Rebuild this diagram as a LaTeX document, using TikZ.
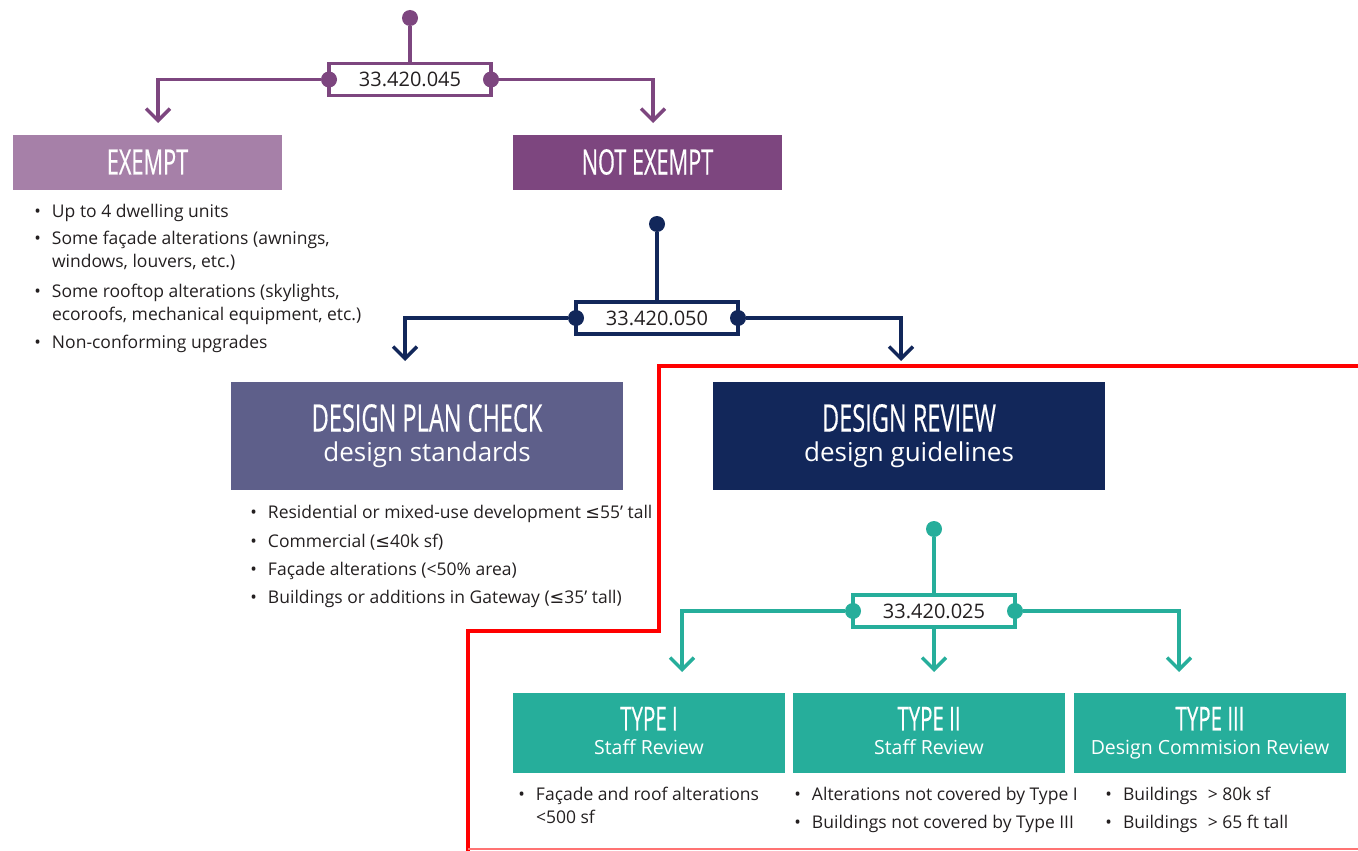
\documentclass[tikz,border=0pt]{standalone}
\usepackage{fontspec}
\setmainfont{Open Sans}
\newfontfamily\headfont[FakeStretch=0.62, FakeBold=0.4]{Open Sans}
\newfontfamily\symfont{DejaVu Sans}
\usetikzlibrary{positioning, arrows.meta}
\definecolor{exlight}{HTML}{A680A8}
\definecolor{exdark}{HTML}{7D467F}
\definecolor{plancol}{HTML}{5E5F8A}
\definecolor{navy}{HTML}{12275A}
\definecolor{seagreen}{HTML}{26AE9B}
\definecolor{ink}{HTML}{231F20}
\newcommand{\itm}{\llap{\textbullet\hspace{11pt}}}
\newcommand{\lesym}{{\symfont ≤}}

\begin{document}
\begin{tikzpicture}[x=1pt, y=-1pt,
            every node/.style = {inner sep=0pt, outer sep=0pt},
            head/.style = {minimum height=55pt, minimum width=269pt, text=white,
                font=\headfont\fontsize{35}{36}\selectfont},
            bigbox/.style = {minimum height=108pt, minimum width=392pt, text=white,
                align=center, font=\fontsize{26}{30}\selectfont},
            typebox/.style = {minimum height=80pt, minimum width=272pt, fill=seagreen,
                text=white, align=center, font=\fontsize{19.5}{24}\selectfont},
            code/.style = {draw, fill=white, line width=3.5pt, minimum width=162pt,
                minimum height=32pt, text=ink, font=\fontsize{20}{24}\selectfont},
            dot/.style = {circle, minimum size=16pt},
            link/.style = {line width=3.5pt, -{Straight Barb[length=12pt, width=24pt]}},
            item/.style = {anchor=base west, align=left, text=ink,
                font=\fontsize{17.5}{22.5}\selectfont}
        ]
        \useasboundingbox (0,0) rectangle (1358,851);

        \draw[red, line width=4.5pt] (468,851) -- (468,631) -- (659,631) -- (659,366) -- (1358,366);
        \draw[red!55, line width=2pt] (468,849) -- (1358,849);

        \node[head, fill=exlight] (exempt) at (147.5,162) {EXEMPT};
        \node[head, fill=exdark] (notex) at (647.5,162) {NOT EXEMPT};

        \node[bigbox, fill=plancol] (plan) at (427,436)
            {{\headfont\fontsize{38}{30}\selectfont DESIGN PLAN CHECK}\\design standards};
        \node[bigbox, fill=navy] (review) at (909,436)
            {{\headfont\fontsize{38}{30}\selectfont DESIGN REVIEW}\\design guidelines};

        \node[typebox] (type1) at (649,733)
            {{\headfont\fontsize{33}{24}\selectfont TYPE I}\\Staff Review\vphantom{g}};
        \node[typebox] (type2) at (929,733)
            {{\headfont\fontsize{33}{24}\selectfont TYPE II}\\Staff Review\vphantom{g}};
        \node[typebox] (type3) at (1210,733)
            {{\headfont\fontsize{33}{24}\selectfont TYPE III}\\Design Commision Review};

        \node[code, draw=exdark] (pbox) at (410,79.5) {33.420.045};
        \node[dot, fill=exdark] (ptop) at (410,18) {};
        \node[dot, fill=exdark] (pleft) at (pbox.west) {};
        \node[dot, fill=exdark] (pright) at (pbox.east) {};
        \coordinate (aex) at (158,123);
        \coordinate (anot) at (653,123);
        \draw[line width=3.5pt, exdark] (ptop) -- (pbox);
        \draw[link, exdark] (pleft) -| (aex);
        \draw[link, exdark] (pright) -| (anot);

        \node[code, draw=navy] (nbox) at (657,318) {33.420.050};
        \node[dot, fill=navy] (ntop) at (657,224) {};
        \node[dot, fill=navy] (nleft) at (nbox.west) {};
        \node[dot, fill=navy] (nright) at (nbox.east) {};
        \coordinate (aplan) at (405,361);
        \coordinate (arev) at (901,361);
        \draw[line width=3.5pt, navy] (ntop) -- (nbox);
        \draw[link, navy] (nleft) -| (aplan);
        \draw[link, navy] (nright) -| (arev);

        \node[code, draw=seagreen] (tbox) at (934,611) {33.420.025};
        \node[dot, fill=seagreen] (ttop) at (934,529) {};
        \node[dot, fill=seagreen] (tleft) at (tbox.west) {};
        \node[dot, fill=seagreen] (tright) at (tbox.east) {};
        \coordinate (aone) at (682,672);
        \coordinate (atwo) at (934,672);
        \coordinate (athree) at (1179,672);
        \draw[line width=3.5pt, seagreen] (ttop) -- (tbox);
        \draw[link, seagreen] (tleft) -| (aone);
        \draw[link, seagreen] (tbox) -- (atwo);
        \draw[link, seagreen] (tright) -| (athree);

        \node[item] (ex1) at (52,217) {\itm Up to 4 dwelling units};
        \node[item] (ex2) at (52,267) {\itm Some façade alterations (awnings,\\windows, louvers, etc.)};
        \node[item] (ex3) at (52,320) {\itm Some rooftop alterations (skylights,\\ecoroofs, mechanical equipment, etc.)};
        \node[item] (ex4) at (52,348) {\itm Non-conforming upgrades};

        \node[item] (pl1) at (268,518) {\itm Residential or mixed-use development \lesym55’ tall};
        \node[item] (pl2) at (268,547) {\itm Commercial (\lesym40k sf)};
        \node[item] (pl3) at (268,575) {\itm Façade alterations (<50\% area)};
        \node[item] (pl4) at (268,603) {\itm Buildings or additions in Gateway (\lesym35’ tall)};

        \node[item] (ty1) at (536,823) {\itm Façade and roof alterations\\<500 sf};
        \node[item] (ty2a) at (812,800) {\itm Alterations not covered by Type I};
        \node[item] (ty2b) at (812,828) {\itm Buildings not covered by Type III};
        \node[item] (ty3a) at (1123,800) {\itm Buildings\hspace{10pt}> 80k sf};
        \node[item] (ty3b) at (1123,828) {\itm Buildings\hspace{10pt}> 65 ft tall};
        \end{tikzpicture}
\end{document}
